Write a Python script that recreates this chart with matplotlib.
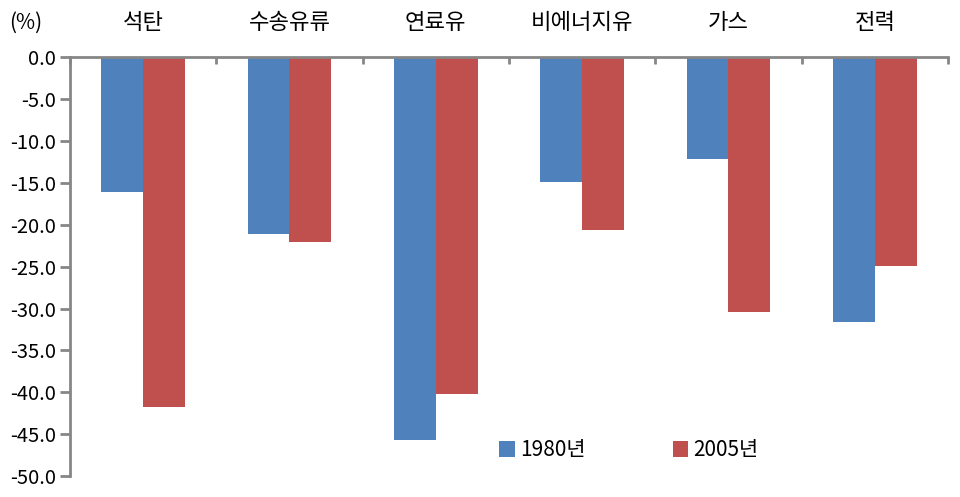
import matplotlib
matplotlib.use("Agg")
import matplotlib.pyplot as plt
import numpy as np

plt.rcParams['font.family'] = ['Noto Sans CJK KR', 'DejaVu Sans']

categories = ["석탄", "수송유류", "연료유", "비에너지유", "가스", "전력"]
vals_1980 = [-16.1, -21.1, -45.7, -14.9, -12.2, -31.6]
vals_2005 = [-41.7, -22.0, -40.2, -20.6, -30.4, -24.9]
series_names = ["1980년", "2005년"]
yticks = np.arange(-50, 0.1, 5)

blue = "#4f81bd"
red = "#c0504d"
gray = "#868686"

fig = plt.figure(figsize=(9.6, 4.97), dpi=100)
ax = fig.add_axes([0.0729, 0.042, 0.9146, 0.843])

x = np.arange(len(categories))
w = 0.286
b1 = ax.bar(x - w / 2, vals_1980, w, color=blue, label=series_names[0])
b2 = ax.bar(x + w / 2, vals_2005, w, color=red, label=series_names[1])

ax.set_xlim(-0.5, len(categories) - 0.5)
ax.set_ylim(-50, 0)

# category labels on top
ax.xaxis.tick_top()
ax.set_xticks(x)
ax.set_xticklabels(categories, fontsize=16)
ax.tick_params(axis='x', which='major', length=0, pad=17)
ax.set_xticks(np.arange(len(categories) + 1) - 0.5, minor=True)
ax.tick_params(axis='x', which='minor', length=5, width=2, color=gray, direction='in')

ax.set_yticks(yticks)
ax.set_yticklabels(["%.1f" % v for v in yticks], fontsize=14.5)
ax.tick_params(axis='y', length=7, width=2, color=gray, pad=3)

for s in ['right', 'bottom']:
    ax.spines[s].set_visible(False)
for s in ['top', 'left']:
    ax.spines[s].set_color(gray)
    ax.spines[s].set_linewidth(2)

fig.text(0.01, 0.955, "(%)", fontsize=15, ha='left', va='center')

ax.legend(handles=[b1, b2], loc='center', bbox_to_anchor=(0.655, 0.094),
          bbox_transform=fig.transFigure, ncol=2, frameon=False, fontsize=15,
          handlelength=0.75, handleheight=0.75, handletextpad=0.25, columnspacing=4.2)

fig.savefig("out.png", dpi=100)
